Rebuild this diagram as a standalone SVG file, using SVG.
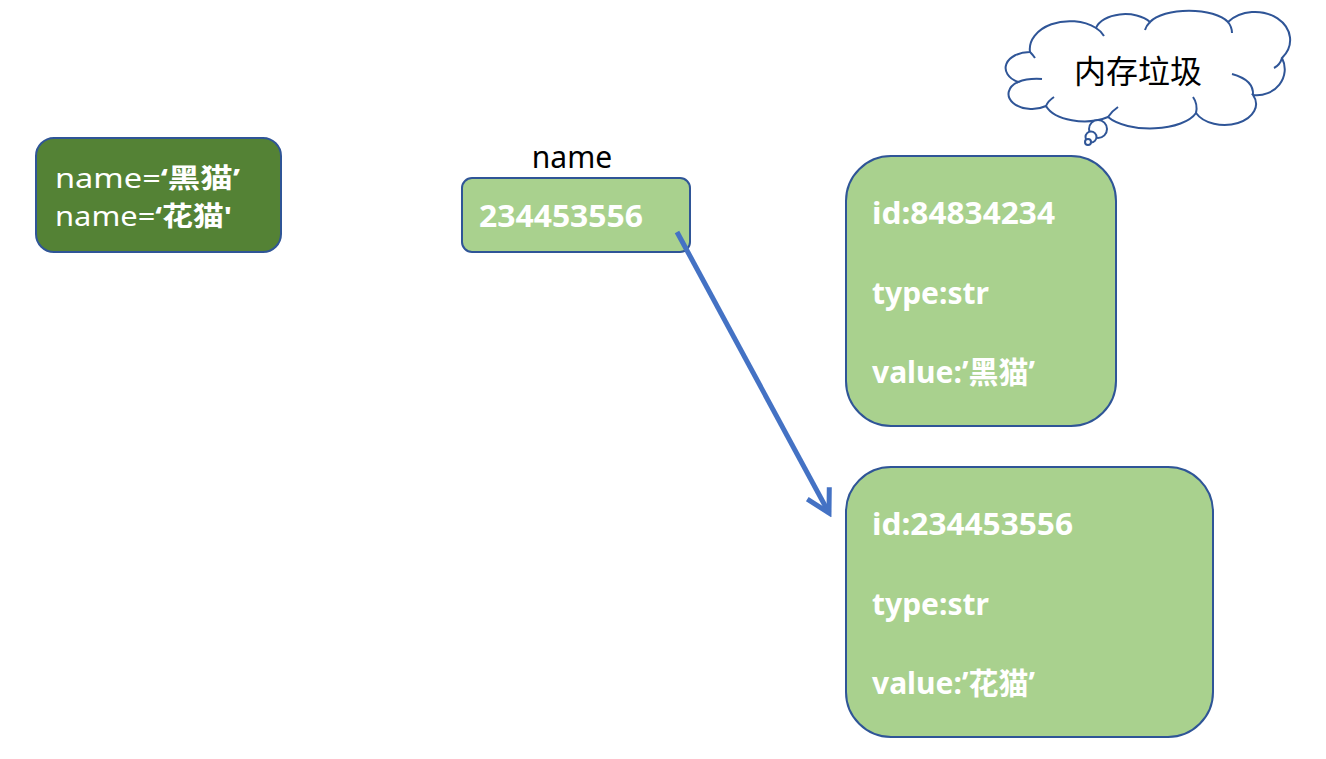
<svg xmlns="http://www.w3.org/2000/svg" width="1326" height="759" viewBox="0 0 1326 759">
<style>
.box{stroke:#2F5597;stroke-width:2}
.light{fill:#A9D18E}
.dark{fill:#548235}
.t{font-family:"Noto Sans","Noto Sans CJK SC",sans-serif;font-size:30px;fill:#fff}
.b{font-weight:bold}
.lbl{font-family:"Noto Sans","Noto Sans CJK SC",sans-serif;font-size:30px;fill:#000}
.cloud{fill:#fff;stroke:#2F5597;stroke-width:2}
.curl{fill:none;stroke:#2F5597;stroke-width:2}
</style>
<defs>
<marker id="arr" viewBox="0 0 12 12" refX="10" refY="6" markerWidth="6" markerHeight="6" orient="auto" markerUnits="strokeWidth">
<path d="M1,1 L10,6 L1,11" fill="none" stroke="#4472C4" stroke-width="2"/>
</marker>
</defs>
<g id="node-code">
<rect class="box dark" x="36" y="138" width="245" height="114" rx="18"/>
<text class="t" x="55" y="188" style="font-size:27px" textLength="185" lengthAdjust="spacingAndGlyphs">name=<tspan class="b">‘黑猫’</tspan></text>
<text class="t" x="55" y="226" style="font-size:27px" textLength="177" lengthAdjust="spacingAndGlyphs">name=<tspan class="b">‘花猫'</tspan></text>
</g>
<g id="node-var">
<text class="lbl" x="572" y="168" text-anchor="middle">name</text>
<rect class="box light" x="462" y="178" width="228" height="74" rx="10"/>
<text class="t b" x="479" y="227" textLength="164" lengthAdjust="spacingAndGlyphs">234453556</text>
</g>
<g id="node-obj1">
<rect class="box light" x="846" y="156" width="270" height="270" rx="45"/>
<text class="t b" x="872" y="224" textLength="183" lengthAdjust="spacingAndGlyphs">id:84834234</text>
<text class="t b" x="872" y="304">type:str</text>
<text class="t b" x="872" y="383">value:’黑猫’</text>
</g>
<g id="node-obj2">
<rect class="box light" x="846" y="467" width="367" height="270" rx="45"/>
<text class="t b" x="872" y="535" textLength="201" lengthAdjust="spacingAndGlyphs">id:234453556</text>
<text class="t b" x="872" y="615">type:str</text>
<text class="t b" x="872" y="694">value:’花猫’</text>
</g>
<g id="node-cloud">
<path class="cloud" d="M1030,52 A40,28 0 0 1 1096,28 A30,18 0 0 1 1150,22 A42,18 0 0 1 1228,22 A30,24 0 0 1 1282,58 A28,26 0 0 1 1253,95 A30,20 0 0 1 1196,113 A48,22 0 0 1 1108,117 A40,22 0 0 1 1046,106 A22,14 0 0 1 1018,82 A24,16 0 0 1 1030,52 Z"/>
<path class="curl" d="M1018,82 Q1028,78 1042,79"/>
<path class="curl" d="M1046,106 Q1048,101 1054,97"/>
<path class="curl" d="M1108,117 Q1112,111 1118,107"/>
<path class="curl" d="M1196,113 Q1198,104 1193,97"/>
<path class="curl" d="M1253,95 Q1254,80 1232,74"/>
<path class="curl" d="M1282,58 Q1280,65 1274,68"/>
<path class="curl" d="M1228,22 Q1232,27 1232,33"/>
<path class="curl" d="M1150,22 Q1146,26 1145,30"/>
<path class="curl" d="M1096,28 Q1101,31 1104,36"/>
<path class="curl" d="M1030,52 Q1033,55 1035,58"/>
<circle class="cloud" cx="1098" cy="129" r="9"/>
<circle class="cloud" cx="1091" cy="137" r="5.5"/>
<circle class="cloud" cx="1088" cy="142" r="3"/>
<text x="1138" y="83" text-anchor="middle" style="font-family:'Noto Sans CJK SC',sans-serif;font-size:32px;fill:#000">内存垃圾</text>
</g>
<g id="connectors">
<line x1="677" y1="232" x2="829" y2="513" stroke="#4472C4" stroke-width="5" marker-end="url(#arr)"/>
</g>
</svg>
